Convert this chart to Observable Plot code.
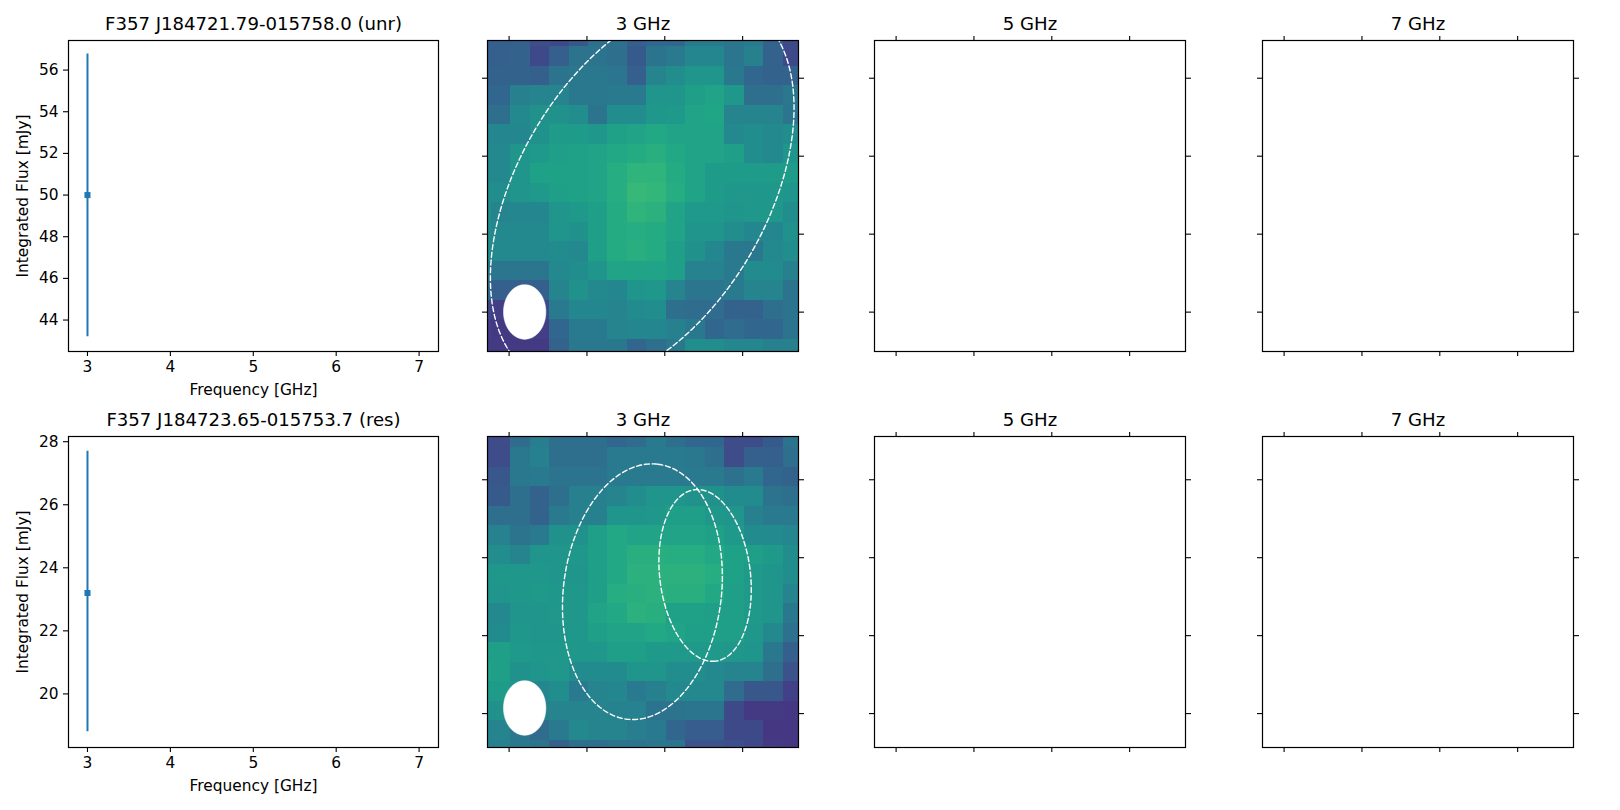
<!DOCTYPE html>
<html>
<head>
<meta charset="utf-8">
<script src="https://cdn.jsdelivr.net/npm/d3@7"></script>
<script src="https://cdn.jsdelivr.net/npm/@observablehq/plot@0.6"></script>
<style>
html,body{margin:0;padding:0;background:#fff;}
#fig{position:relative;width:1620px;height:810px;overflow:hidden;font-family:"DejaVu Sans",sans-serif;}
#fig>div,#fig svg{position:absolute;}
svg{background:transparent;font-family:"DejaVu Sans",sans-serif;}
</style>
</head>
<body>
<div id="fig"></div>
<script>
const titles = [
  ["F357 J184721.79-015758.0 (unr)", "3 GHz", "5 GHz", "7 GHz"],
  ["F357 J184723.65-015753.7 (res)", "3 GHz", "5 GHz", "7 GHz"]
];
const fluxFreq = [3, 3];
const fluxValue = [50.0, 23.2];
const fluxLow = [43.2, 18.8];
const fluxHigh = [56.77, 27.7];
const fluxDomains = [[42.49, 57.42], [18.3, 28.165]];
const fluxTicks = [[44, 46, 48, 50, 52, 54, 56], [20, 22, 24, 26, 28]];
const freqDomain = [2.771, 7.234];
const freqTicks = [3, 4, 5, 6, 7];

const imageX = [0.81, 16.79];
const imageY = [[0.675, 16.63], [0.42, 16.38]];
const imageTicksX = [1.92, 5.92, 9.92, 13.92];
const imageTicksY = [[2.61, 6.61, 10.61, 14.61], [2.64, 6.64, 10.64, 14.64]];

const image1 = [
  [.30,.30,.30,.24,.22,.27,.36,.36,.30,.33,.33,.41,.41,.39,.41,.31,.22],
  [.30,.30,.31,.22,.30,.38,.38,.36,.28,.38,.41,.46,.46,.39,.43,.31,.22],
  [.31,.31,.31,.30,.38,.40,.40,.39,.30,.45,.49,.52,.52,.40,.33,.31,.31],
  [.33,.33,.43,.45,.45,.40,.40,.41,.41,.52,.52,.56,.58,.53,.36,.36,.40],
  [.36,.36,.47,.50,.50,.49,.38,.49,.49,.53,.54,.58,.59,.45,.45,.45,.39],
  [.46,.46,.46,.50,.55,.55,.53,.57,.58,.60,.58,.58,.58,.47,.49,.47,.49],
  [.47,.47,.52,.54,.56,.57,.58,.60,.61,.63,.60,.58,.58,.56,.49,.47,.52],
  [.47,.47,.52,.57,.57,.57,.58,.62,.65,.65,.61,.58,.55,.55,.55,.55,.55],
  [.49,.49,.52,.54,.56,.57,.58,.62,.67,.66,.62,.58,.55,.53,.53,.53,.52],
  [.49,.45,.46,.46,.52,.54,.56,.61,.65,.64,.58,.54,.54,.52,.53,.53,.49],
  [.49,.47,.47,.47,.52,.50,.56,.61,.62,.61,.58,.52,.52,.49,.46,.46,.50],
  [.49,.47,.47,.47,.48,.47,.56,.61,.63,.61,.56,.50,.46,.40,.40,.47,.49],
  [.41,.39,.39,.39,.47,.49,.52,.58,.58,.58,.56,.44,.44,.41,.48,.48,.43],
  [.36,.30,.30,.30,.45,.50,.47,.46,.52,.53,.45,.39,.39,.41,.45,.45,.38],
  [.22,.18,.18,.22,.41,.46,.46,.45,.48,.49,.36,.35,.35,.31,.31,.36,.38],
  [.18,.17,.17,.18,.33,.41,.41,.45,.46,.46,.43,.40,.33,.35,.33,.33,.38],
  [.17,.17,.17,.17,.31,.40,.40,.40,.33,.36,.40,.49,.49,.46,.46,.43,.43]
];
const image2 = [
  [.23,.23,.35,.42,.36,.36,.36,.33,.35,.41,.36,.33,.33,.23,.23,.28,.38],
  [.23,.23,.40,.43,.36,.36,.36,.41,.41,.41,.41,.40,.36,.23,.30,.30,.36],
  [.27,.27,.40,.41,.38,.38,.38,.41,.41,.41,.41,.41,.41,.37,.41,.33,.31],
  [.28,.28,.36,.31,.36,.43,.43,.45,.49,.52,.52,.50,.50,.48,.48,.38,.36],
  [.36,.36,.36,.31,.41,.43,.43,.52,.52,.53,.56,.56,.53,.52,.43,.41,.41],
  [.44,.44,.38,.41,.50,.50,.56,.60,.58,.58,.58,.58,.57,.54,.48,.48,.46],
  [.49,.49,.45,.52,.52,.53,.56,.60,.63,.63,.62,.62,.60,.57,.56,.54,.49],
  [.53,.53,.53,.53,.52,.52,.56,.60,.64,.64,.64,.64,.62,.57,.54,.52,.49],
  [.52,.52,.53,.54,.53,.53,.56,.62,.63,.64,.63,.63,.60,.56,.54,.52,.45],
  [.47,.47,.52,.52,.53,.53,.58,.60,.64,.63,.57,.57,.56,.56,.54,.52,.40],
  [.48,.48,.53,.52,.52,.53,.56,.58,.58,.60,.58,.56,.56,.56,.53,.47,.37],
  [.56,.56,.54,.53,.53,.53,.53,.56,.56,.54,.54,.54,.54,.53,.52,.40,.30],
  [.58,.56,.50,.52,.53,.48,.48,.48,.52,.52,.49,.49,.47,.45,.45,.36,.25],
  [.55,.55,.52,.46,.49,.41,.45,.46,.41,.43,.47,.47,.47,.35,.27,.27,.19],
  [.50,.50,.47,.43,.45,.45,.45,.44,.44,.38,.38,.39,.39,.22,.17,.17,.16],
  [.45,.45,.40,.35,.41,.47,.45,.45,.42,.41,.33,.29,.29,.22,.22,.16,.16],
  [.43,.43,.40,.38,.31,.36,.36,.38,.38,.39,.38,.25,.25,.24,.22,.17,.16]
];
const images = [image1, image2];

// [centre x, centre y, semi-major, semi-minor, angle in degrees], in image cells
const apertures = [
  [[8.76, 8.49, 10.89, 6.39, -59.5]],
  [[8.77, 8.385, 6.59, 4.06, -83.1], [11.99, 7.55, 4.43, 2.33, 83.07]]
];
const beams = [[2.72, 14.6, 1.40, 1.09, 90], [2.72, 14.35, 1.40, 1.09, 90]];

const colTops = [39.5, 436];
const colLefts = [67.5, 486.7, 874.3, 1262.3];
const colWidths = [370, 311, 311, 311];
const rowHeight = 311;
const M = {top: 30, right: 12, bottom: 56, left: 60};
const TICK = 15.4, TITLE = 18.1;

function ellipse([cx, cy, a, b, deg]) {
  const th = deg * Math.PI / 180;
  return d3.range(0, 241).map(i => {
    const t = i / 240 * 2 * Math.PI;
    return {
      x: cx + a * Math.cos(t) * Math.cos(th) - b * Math.sin(t) * Math.sin(th),
      y: cy + a * Math.cos(t) * Math.sin(th) + b * Math.sin(t) * Math.cos(th)
    };
  });
}

function place(svgEl, row, col) {
  svgEl.style.left = (colLefts[col] - M.left) + "px";
  svgEl.style.top = (colTops[row] - M.top) + "px";
  document.getElementById("fig").appendChild(svgEl);
}

function common(row, col) {
  return {
    width: colWidths[col] + M.left + M.right,
    height: rowHeight + M.top + M.bottom,
    marginTop: M.top, marginRight: M.right, marginBottom: M.bottom, marginLeft: M.left,
    style: {background: "transparent", fontFamily: "DejaVu Sans", overflow: "visible"}
  };
}

function titleMark(text) {
  return Plot.text([text], {frameAnchor: "top", dy: -16, fontSize: TITLE, fill: "black", textAnchor: "middle", lineAnchor: "middle"});
}

function fluxPanel(row) {
  const pt = [{f: fluxFreq[row], v: fluxValue[row], lo: fluxLow[row], hi: fluxHigh[row]}];
  return Plot.plot({
    ...common(row, 0),
    x: {domain: freqDomain, axis: null},
    y: {domain: fluxDomains[row], axis: null},
    marks: [
      Plot.ruleX(pt, {x: "f", y1: "lo", y2: "hi", stroke: "#1f77b4", strokeWidth: 2, strokeLinecap: "butt"}),
      Plot.dot(pt, {x: "f", y: "v", symbol: "square", r: 3.4, fill: "#1f77b4", stroke: "none"}),
      Plot.axisX({ticks: freqTicks, tickFormat: "d", tickSize: 5, tickPadding: 5, fontSize: TICK, stroke: "black", strokeWidth: 1.1, fill: "black",
        label: "Frequency [GHz]", labelAnchor: "center", labelArrow: "none", labelOffset: 43}),
      Plot.axisY({ticks: fluxTicks[row], tickFormat: "d", tickSize: 5, tickPadding: 5, fontSize: TICK, stroke: "black", strokeWidth: 1.1, fill: "black",
        label: "Integrated Flux [mJy]", labelAnchor: "center", labelArrow: "none", labelOffset: 51}),
      Plot.frame({stroke: "black", strokeWidth: 1.2}),
      titleMark(titles[row][0])
    ]
  });
}

function tickAxes(row) {
  const opts = {tickSize: 5, stroke: "black", strokeWidth: 1.1, fill: "none", label: null};
  return [
    Plot.axisX({...opts, ticks: imageTicksX, anchor: "top"}),
    Plot.axisX({...opts, ticks: imageTicksX, anchor: "bottom"}),
    Plot.axisY({...opts, ticks: imageTicksY[row], anchor: "left"}),
    Plot.axisY({...opts, ticks: imageTicksY[row], anchor: "right"})
  ];
}

function imagePanel(row, col) {
  const marks = [];
  if (col === 1) {
    const cells = images[row].flatMap((vals, r) => vals.map((v, c) => ({c, r, v})));
    marks.push(Plot.rect(cells, {x1: "c", x2: d => d.c + 1, y1: "r", y2: d => d.r + 1, fill: d => d.v,
      clip: true, shapeRendering: "crispEdges"}));
    marks.push(Plot.line(ellipse(beams[row]), {x: "x", y: "y", fill: "white", stroke: "white", strokeWidth: 0.5, curve: "linear"}));
    for (const ap of apertures[row]) {
      marks.push(Plot.line(ellipse(ap), {x: "x", y: "y", stroke: "white", strokeWidth: 1.4, strokeDasharray: "5,2.8", fill: "none", curve: "linear", clip: true}));
    }
  }
  return Plot.plot({
    ...common(row, col),
    x: {domain: imageX, axis: null},
    y: {domain: imageY[row], reverse: true, axis: null},
    color: {type: "linear", scheme: "viridis", domain: [0, 1]},
    marks: [...marks, ...tickAxes(row), Plot.frame({stroke: "black", strokeWidth: 1.2}), titleMark(titles[row][col])]
  });
}

for (const row of [0, 1]) {
  place(fluxPanel(row), row, 0);
  for (const col of [1, 2, 3]) place(imagePanel(row, col), row, col);
}
</script>
</body>
</html>
